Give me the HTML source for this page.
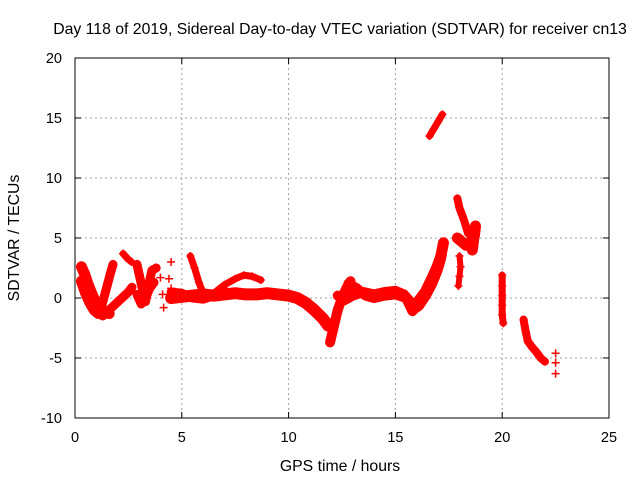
<!DOCTYPE html>
<html><head><meta charset="utf-8"><style>
body{margin:0;background:#fff}
svg{display:block;font-family:"Liberation Sans",sans-serif}
</style></head><body>
<svg id="chart" width="640" height="480" viewBox="0 0 640 480" xmlns="http://www.w3.org/2000/svg">
<rect width="640" height="480" fill="#fff"/>
<text x="340" y="34" font-size="15.8" text-anchor="middle">Day 118 of 2019, Sidereal Day-to-day VTEC variation (SDTVAR) for receiver cn13</text>
<g id="grid"></g><g id="data"></g><g id="axes"></g>
<text x="340" y="471" font-size="15.8" text-anchor="middle">GPS time / hours</text>
<text transform="translate(19,238) rotate(-90)" font-size="15.8" text-anchor="middle">SDTVAR / TECUs</text>
</svg>
<script>
const xTicks=[0,5,10,15,20,25];
const yTicks=[-10,-5,0,5,10,15,20];
const trackA=[[0.3,2.6],[0.45,2.0],[0.6,1.2],[0.8,0.3],[1.0,-0.5],[1.2,-0.9],[1.4,-1.1],[1.6,-1.3]];
const trackB=[[0.3,1.4],[0.5,0.4],[0.7,-0.4],[0.9,-1.0],[1.1,-1.3]];
const trackC=[[1.2,-1.0],[1.35,0.0],[1.5,1.0],[1.65,2.0],[1.78,2.8]];
const trackD=[[1.3,-1.5],[1.6,-1.0],[1.9,-0.5],[2.2,0.0],[2.5,0.5],[2.67,0.9]];
const trackE=[[2.25,3.7],[2.45,3.3],[2.65,3.0]];
const trackF=[[2.9,2.8],[3.0,2.0],[3.1,1.2],[3.2,0.4],[3.3,-0.3],[3.4,0.5],[3.5,1.5],[3.6,2.3],[3.8,2.5]];
const trackG=[[2.9,0.3],[3.1,-0.5],[3.3,0.0],[3.5,0.8],[3.7,1.3]];
const trackH=[[4.0,1.7],[4.1,0.3],[4.15,-0.8],[4.5,3.0],[4.4,1.6],[4.5,0.8],[4.6,0.2]];
const trackI=[[4.5,0.0],[5.0,0.1],[5.5,0.2],[6.0,0.3],[6.5,0.2],[7.0,0.3],[7.5,0.4],[8.0,0.3],[8.5,0.3],[9.0,0.4],[9.5,0.3],[10.0,0.2],[10.4,0.0],[10.8,-0.4],[11.2,-1.0],[11.6,-1.7],[11.85,-2.3]];
const trackJ=[[4.5,0.5],[5.0,0.4],[5.5,0.0],[6.0,-0.1],[6.5,0.2],[7.0,0.6]];
const trackK=[[5.4,3.5],[5.6,2.5],[5.8,1.3],[6.0,0.4]];
const trackL=[[6.5,0.4],[7.0,1.1],[7.5,1.6],[7.9,1.9],[8.3,1.8],[8.7,1.5]];
const trackM=[[11.94,-3.7],[12.1,-2.5],[12.3,-1.0],[12.5,0.0],[12.7,0.8],[12.9,1.4]];
const trackN=[[12.3,0.2],[12.6,-0.2],[13.0,0.2],[13.5,0.5],[14.0,0.3],[14.5,0.5],[15.0,0.6],[15.4,0.3],[15.7,-0.3],[15.9,-0.8]];
const trackO=[[12.8,1.2],[13.2,0.8],[13.6,0.2],[14.0,0.0],[14.5,0.2],[15.0,0.3],[15.5,0.0],[15.8,-1.1]];
const trackP=[[15.8,-1.0],[16.1,-0.6],[16.4,0.2],[16.7,1.2],[16.95,2.3],[17.1,3.2],[17.25,4.6]];
const trackQ=[[16.1,-0.2],[16.4,0.5],[16.7,1.6],[16.95,2.6],[17.15,3.6]];
const trackR=[[16.6,13.5],[16.8,14.1],[17.0,14.7],[17.2,15.3]];
const trackS=[[17.9,8.3],[18.0,7.5],[18.15,6.8],[18.3,6.0],[18.4,5.4]];
const trackT=[[17.9,5.0],[18.1,4.7],[18.3,4.4],[18.5,4.6],[18.7,5.2],[18.75,6.0],[18.6,4.0]];
const trackU=[[18.0,3.5],[18.05,2.6],[18.0,1.8],[17.95,1.0]];
const trackV=[[20.0,1.9],[20.0,1.0],[20.0,0.2],[20.0,-0.6],[20.0,-1.4],[20.05,-2.1]];
const trackW=[[21.0,-1.8],[21.1,-2.8],[21.2,-3.6],[21.4,-4.1],[21.6,-4.5],[21.8,-5.0],[22.0,-5.3]];
const trackX=[[22.5,-4.6],[22.5,-5.4],[22.5,-6.3]];
const tracks=[trackA,trackB,trackC,trackD,trackE,trackF,trackG,trackH,trackI,trackJ,trackK,trackL,trackM,trackN,trackO,trackP,trackQ,trackR,trackS,trackT,trackU,trackV,trackW,trackX];
const bandW=[11,11,9,9,7,9,9,0,12,9,7,7,10,10,10,11,11,7,8,11,6,7,8,0];

const X0=75,X1=609,Y0=418,Y1=58;
const xs=h=>X0+(h-0)/25*(X1-X0);
const ys=v=>Y0-(v+10)/30*(Y0-Y1);
const NS="http://www.w3.org/2000/svg";
function mk(t,a,p){const e=document.createElementNS(NS,t);for(const k in a)e.setAttribute(k,a[k]);p.appendChild(e);return e;}
const grid=document.getElementById('grid'),axes=document.getElementById('axes'),data=document.getElementById('data');
xTicks.forEach(t=>{const x=xs(t);
 if(t>0&&t<25){const g=mk('line',{x1:x,x2:x,y1:Y1,y2:Y0,stroke:'#a0a0a0','stroke-dasharray':'2,3'},grid);
 
 }
 mk('line',{x1:x,x2:x,y1:Y0,y2:Y0-6,stroke:'#000'},axes);
 mk('line',{x1:x,x2:x,y1:Y1,y2:Y1+6,stroke:'#000'},axes);
 const l=mk('text',{x:x,y:442,'font-size':'14.5','text-anchor':'middle'},axes);l.textContent=t;
 
 
});
yTicks.forEach(t=>{const y=ys(t);
 if(t>-10&&t<20){const g=mk('line',{x1:X0,x2:X1,y1:y,y2:y,stroke:'#a0a0a0','stroke-dasharray':'2,3'},grid);
 
 }
 mk('line',{x1:X0,x2:X0+6,y1:y,y2:y,stroke:'#000'},axes);
 mk('line',{x1:X1,x2:X1-6,y1:y,y2:y,stroke:'#000'},axes);
 const l=mk('text',{x:62,y:y+5,'font-size':'14.5','text-anchor':'end'},axes);l.textContent=t;
 
 
});
const fr=mk('rect',{x:X0,y:Y1,width:X1-X0,height:Y0-Y1,fill:'none',stroke:'#000'},axes);


tracks.forEach((tr,i)=>{
 const g=mk('g',{},data);
 
 
 if(bandW[i]>0){mk('polyline',{points:tr.map(p=>xs(p[0])+','+ys(p[1])).join(' '),fill:'none',stroke:'#f00','stroke-width':bandW[i],'stroke-linejoin':'round','stroke-linecap':'round'},g);}
 tr.forEach(p=>{const x=xs(p[0]),y=ys(p[1]);
  const m=mk('path',{d:`M${x-4} ${y}h8M${x} ${y-4}v8`,stroke:'#f00','stroke-width':1.5},g);
  
  
 });
});
</script>
</body></html>
